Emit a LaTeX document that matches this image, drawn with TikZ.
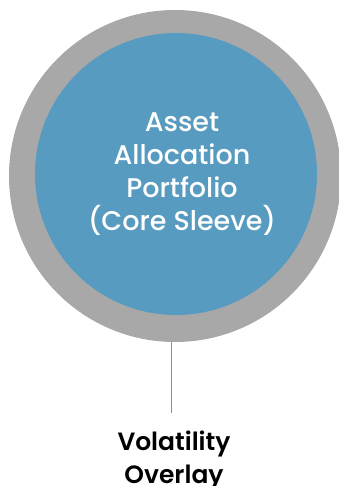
\documentclass[tikz,border=0pt]{standalone}
\usepackage{fontspec}
\setmainfont{Poppins}
\newfontfamily\medfont{Poppins Medium}
\newfontfamily\semifont{Poppins SemiBold}
\usepackage{tikz}
\usetikzlibrary{positioning}

\definecolor{ringgray}{RGB}{168,168,168}
\definecolor{coreblue}{RGB}{88,155,192}
\definecolor{stemgray}{RGB}{140,140,140}

\begin{document}
\begin{tikzpicture}[x=1pt, y=-1pt,
    disc/.style={circle, inner sep=0pt, draw=none},
    caption/.style={align=center, font=\medfont\fontsize{27}{33}\selectfont}]
    \useasboundingbox (0,0) rectangle (338,486);
    \node [disc, fill=ringgray, minimum size=332pt] (ring) at (175,176) {};
    \node [disc, fill=coreblue, minimum size=282pt] (core) at (176,174) {};
    % base anchor sits on the last line
    \node [caption, text=white, anchor=base] (coretext) at (182,230)
        {Asset\\Allocation\\Portfolio\\(Core Sleeve)};
    \node [caption, font=\semifont\fontsize{25}{33}\selectfont, anchor=base] (overlay) at (174,483)
        {Volatility\\Overlay};
    \coordinate (stem) at (171.5,413);
    \draw [stemgray, line width=1.2pt] (stem) -- (stem |- ring.south);
\end{tikzpicture}
\end{document}
